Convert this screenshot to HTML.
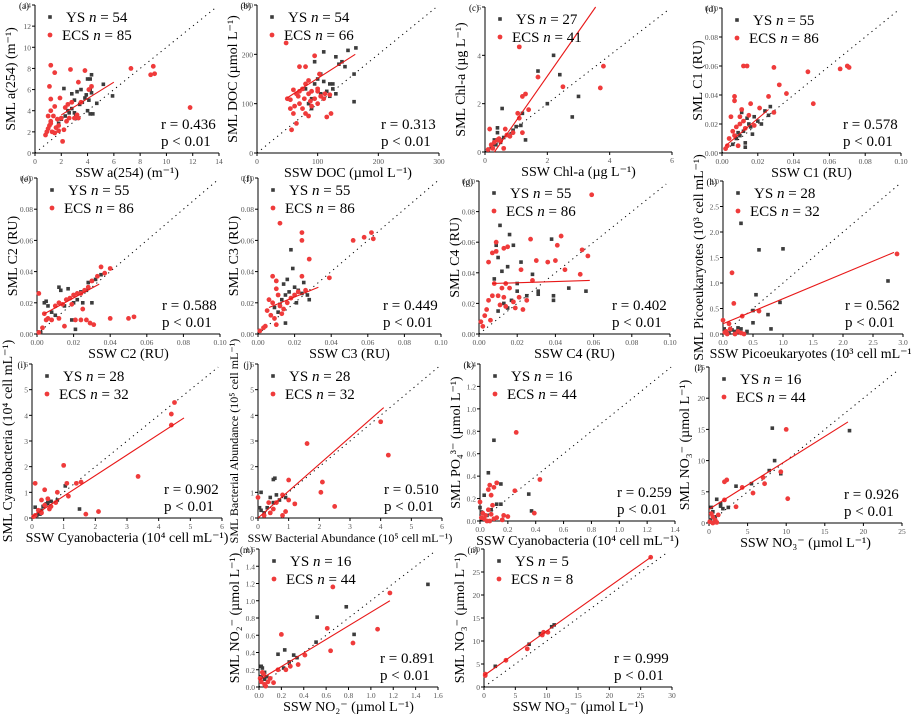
<!DOCTYPE html>
<html><head><meta charset="utf-8"><style>
html,body{margin:0;padding:0;background:#fff;}
svg, svg text{font-family:"Liberation Serif","Times New Roman",serif;}
</style></head><body>
<svg id="fig" width="911" height="715" viewBox="0 0 911 715" xmlns="http://www.w3.org/2000/svg" font-family="Liberation Serif, serif"></svg>
<script>
// ---- data (x,y) pairs per panel ----
const aYS=[[2.2,6.1],[2.8,5.6],[3,5],[3.2,5.8],[3.5,6],[3.8,5.2],[4,7],[4.2,7],[4.3,7.4],[4.2,6],[4.3,5.7],[4,4],[4.2,3.7],[4.4,3.7],[4.7,4.7],[5.2,6.5],[5.9,5.4],[2.5,4],[2.8,4.2],[3.1,3.5],[3.4,4.6],[3.6,4.8],[2,3.2],[2.3,3.5],[3.9,5.5],[1.8,2.8],[2.6,3.8],[3,3.8],[4.1,5],[4.3,6.3]];
const aECS=[[1.2,8.3],[1.5,7.6],[2.7,7.9],[3.8,7.8],[7.3,8],[8.8,7.4],[9,8.2],[9.1,7.5],[11.8,4.3],[1.1,6.3],[1.2,5.1],[1.9,5.2],[3.3,6.7],[4.3,6.3],[2.1,1.1],[0.8,1.7],[0.9,2],[1,2.3],[1.1,2.6],[1.2,3],[1.3,2],[1.4,3.5],[1.5,4.4],[1.6,2.4],[1.7,3.2],[1.8,2.1],[1,3.5],[1.2,4],[2,3.3],[2.4,3],[2.5,4.6],[2.6,3.3],[2.8,4.8],[3,3.3],[3.2,3.6],[3.5,4.8],[2.2,2.2],[1.5,1.9],[1.8,2.6],[2.3,4.3],[3.3,3.3],[4.1,6],[1.2,2.8]];
const aFit=[[2,3.6],[6,6.7]];
const bYS=[[100,130],[110,205],[95,185],[130,195],[145,175],[150,208],[163,213],[160,160],[160,104],[120,140],[110,145],[105,120],[90,110],[85,100],[125,130],[115,125],[100,150],[95,140],[130,120],[120,115],[135,180],[140,185],[90,90],[80,130],[105,160],[125,140]];
const bECS=[[48,223],[80,175],[95,197],[103,160],[70,175],[50,110],[55,90],[60,80],[65,60],[57,47],[60,128],[70,125],[75,130],[85,120],[80,80],[85,75],[90,95],[95,110],[100,100],[105,115],[110,110],[115,73],[122,80],[120,118],[100,130],[85,147],[65,120],[55,108],[70,100],[75,90],[80,140],[90,125],[88,105],[78,110],[68,115],[62,95],[100,125],[112,120]];
const bFit=[[50,112],[162,200]];
const cYS=[[0.55,1.8],[1.7,3.35],[2.2,4],[2.4,3.2],[2,2],[3,2.3],[2.8,1.45],[1.3,0.5],[1.2,1.6],[1,1.05],[1.15,1.1],[0.4,1],[0.4,0.8],[0.3,0.5],[0.6,0.6],[0.8,0.7],[0.5,0.4],[0.2,0.2],[0.9,0.9],[0.35,0.3]];
const cECS=[[1.1,4.35],[1.7,3.1],[1.3,2.4],[1.2,2.3],[1.4,1.75],[2.5,2.7],[3.7,2.65],[3.8,3.55],[0.15,0.95],[0.65,0.95],[1.05,1.6],[1.1,1.4],[0.9,0.8],[0.7,0.7],[0.6,0.15],[0.4,0.5],[0.3,0.4],[0.2,0.3],[0.5,0.45],[0.1,0.1],[1.2,0.8],[0.8,0.65],[0.45,0.55],[0.25,0.15]];
const cFit=[[0.3,0],[3.55,6]];
const dYS=[[0.027,0.032],[0.024,0.029],[0.026,0.026],[0.02,0.022],[0.018,0.025],[0.015,0.02],[0.012,0.015],[0.013,0.007],[0.013,0.004],[0.01,0.012],[0.008,0.01],[0.011,0.028],[0.006,0.006],[0.016,0.018],[0.022,0.02],[0.009,0.014],[0.014,0.024],[0.017,0.013]];
const dECS=[[0.012,0.06],[0.014,0.06],[0.029,0.059],[0.048,0.056],[0.066,0.058],[0.07,0.06],[0.071,0.059],[0.032,0.047],[0.036,0.041],[0.051,0.034],[0.026,0.039],[0.007,0.039],[0.007,0.036],[0.021,0.031],[0.029,0.028],[0.016,0.034],[0.005,0.025],[0.01,0.025],[0.004,0.01],[0.006,0.015],[0.008,0.018],[0.01,0.02],[0.012,0.022],[0.003,0.005],[0.015,0.026],[0.009,0.005],[0.011,0.03],[0.002,0.003],[0.007,0.012],[0.013,0.017],[0.018,0.019]];
const dFit=[[0.002,0.005],[0.026,0.03]];
const eYS=[[0.002,0.001],[0.012,0.03],[0.013,0.028],[0.017,0.029],[0.02,0.02],[0.022,0.022],[0.025,0.02],[0.028,0.033],[0.03,0.034],[0.032,0.035],[0.035,0.038],[0.019,0.009],[0.021,0.003],[0.004,0.02],[0.005,0.021],[0.008,0.014],[0.01,0.012],[0.015,0.018],[0.024,0.027],[0.027,0.028],[0.006,0.018],[0.03,0.02]];
const eECS=[[0.001,0.026],[0.004,0.013],[0.005,0.009],[0.006,0.01],[0.003,0.004],[0.001,0.001],[0.01,0.018],[0.012,0.02],[0.014,0.019],[0.016,0.022],[0.018,0.023],[0.02,0.025],[0.022,0.026],[0.024,0.026],[0.026,0.028],[0.028,0.03],[0.03,0.034],[0.033,0.037],[0.035,0.043],[0.037,0.039],[0.04,0.042],[0.05,0.01],[0.053,0.011],[0.021,0.009],[0.024,0.009],[0.027,0.009],[0.029,0.007],[0.031,0.006],[0.025,0.016],[0.019,0.019],[0.012,0.01],[0.008,0.009],[0.04,0.01],[0.015,0.005]];
const eFit=[[0.004,0.013],[0.034,0.032]];
const fYS=[[0.018,0.054],[0.019,0.042],[0.016,0.035],[0.02,0.03],[0.024,0.026],[0.027,0.025],[0.028,0.022],[0.022,0.028],[0.015,0.025],[0.013,0.022],[0.012,0.019],[0.011,0.014],[0.009,0.017],[0.015,0.007],[0.025,0.033],[0.017,0.027],[0.021,0.02],[0.014,0.032]];
const fECS=[[0.012,0.071],[0.024,0.065],[0.024,0.06],[0.028,0.048],[0.052,0.06],[0.058,0.062],[0.062,0.065],[0.063,0.061],[0.039,0.036],[0.024,0.037],[0.008,0.037],[0.01,0.034],[0.01,0.029],[0.006,0.022],[0.008,0.02],[0.012,0.018],[0.014,0.016],[0.016,0.02],[0.02,0.025],[0.005,0.015],[0.007,0.012],[0.009,0.01],[0.004,0.005],[0.001,0.002],[0.003,0.004],[0.011,0.025],[0.013,0.013],[0.018,0.023],[0.022,0.027],[0.026,0.028],[0.01,0.006]];
const fFit=[[0.006,0.017],[0.033,0.03]];
const gYS=[[0.011,0.071],[0.016,0.065],[0.018,0.058],[0.009,0.058],[0.038,0.062],[0.015,0.044],[0.022,0.047],[0.028,0.039],[0.012,0.041],[0.008,0.036],[0.047,0.03],[0.056,0.028],[0.039,0.025],[0.039,0.022],[0.031,0.026],[0.02,0.028],[0.017,0.022],[0.013,0.02],[0.015,0.017],[0.01,0.015],[0.025,0.025],[0.02,0.033],[0.031,0.028],[0.01,0.05]];
const gECS=[[0.059,0.091],[0.027,0.062],[0.043,0.064],[0.041,0.058],[0.054,0.055],[0.057,0.051],[0.045,0.042],[0.053,0.039],[0.036,0.047],[0.04,0.048],[0.03,0.048],[0.022,0.042],[0.028,0.035],[0.009,0.06],[0.007,0.053],[0.005,0.047],[0.009,0.054],[0.013,0.056],[0.015,0.057],[0.014,0.033],[0.008,0.033],[0.012,0.03],[0.01,0.025],[0.005,0.022],[0.004,0.016],[0.003,0.012],[0.001,0.008],[0.002,0.005],[0.006,0.009],[0.014,0.018],[0.018,0.021],[0.021,0.024],[0.016,0.03],[0.025,0.022],[0.011,0.019],[0.007,0.025],[0.013,0.024],[0.019,0.017],[0.023,0.016]];
const gFit=[[0.007,0.033],[0.058,0.035]];
const hYS=[[0.3,2.17],[0.6,1.65],[1,1.67],[0.5,0.46],[0.55,0.77],[0.95,0.62],[2.75,1.04],[0.75,0.38],[0.5,0.22],[0.8,0.1],[0.3,0.1],[0.05,0.05],[0.1,0.02],[0.2,0.05],[0.15,0.08],[0.25,0.12],[0.4,0.05],[0.02,0.1]];
const hECS=[[0.15,1.2],[0.18,0.6],[0,0.27],[0.32,0.35],[0.6,0.45],[2.9,1.57],[0.1,0.2],[0.12,0.1],[0.05,0.05],[0.2,0],[0.3,0.02],[0.35,0],[0.07,0],[0.25,0.05],[0.03,0.03]];
const hFit=[[0,0.2],[2.85,1.6]];
const iYS=[[1.05,1.25],[1.5,0.35],[0.1,0.42],[0.3,0.3],[0.45,0.55],[0.5,0.6],[0.6,0.65],[0.2,0.2],[0.15,0.1],[0.05,0.05],[0.8,0.7],[0.35,0.45],[0.25,0.15]];
const iECS=[[4.5,4.5],[4.4,4.05],[4.4,3.62],[3.35,1.62],[1,2.05],[1.1,1.35],[1.4,1.35],[1.55,1.4],[0.1,1.35],[0.4,1.1],[0.8,1],[1.15,0.85],[0.75,0.6],[0.5,0.75],[0.3,0.7],[0.55,0.35],[1.7,0.15],[2.1,0.25],[0.4,0.5],[0.2,0.3],[0.1,0.1],[0.6,0.45],[0.3,0.2],[0.05,0.05]];
const iFit=[[0,0.05],[4.8,3.9]];
const jYS=[[0.5,1.5],[0.55,1.55],[0.1,1],[0.4,0.8],[0.6,0.9],[0.9,0.8],[0.3,0.4],[0.2,0.2],[0.1,0.3],[0.05,0.4],[0.7,0.7],[0.5,0.6]];
const jECS=[[1.6,2.9],[4,3.75],[4.25,2.45],[2.1,1.4],[2.05,1],[2.5,0.45],[1,1.48],[0.8,0.9],[1,0.7],[1.2,0.55],[0.8,0.1],[0.9,0.25],[0,0.8],[0.35,0.6],[0.4,0.2],[0.5,0.35],[0.2,0.1],[0.6,0.6]];
const jFit=[[0,0],[4.1,4.3]];
const kYS=[[0.1,0.72],[0.06,0.43],[0.03,0.23],[0.15,0.33],[0.35,0.24],[0.15,0.15],[0.37,0.09],[0.12,0.15],[0,0.12],[0.01,0.08],[0.02,0.02],[0.05,0.05],[0.08,0.1]];
const kECS=[[0.26,0.79],[0.43,0.37],[0.25,0.27],[0.39,0.07],[0.2,0.04],[0.17,0.05],[0.12,0.34],[0.1,0.3],[0.07,0.32],[0.06,0.28],[0.08,0.23],[0.09,0.14],[0.08,0.06],[0.06,0.1],[0.04,0.05],[0,0.17],[0.03,0.02],[0.05,0],[0.1,0.02],[0.02,0.07],[0.07,0],[0.01,0.03],[0.12,0.03],[0.16,0.01]];
const kFit=null;
const lYS=[[8.2,15.2],[18.2,14.8],[8.5,10],[7.8,8.4],[9.3,7.9],[5.5,6.3],[3.5,5.9],[0.3,2.5],[0.5,1.8],[1,3.8],[1.5,2.7],[1.5,3.1],[2.5,2.5],[0.2,0.5],[0.8,1],[1.8,2.3]];
const lECS=[[10,15],[10.2,3.9],[9.3,8.2],[7.2,6.3],[7,7.3],[5.7,4.8],[4.3,5.7],[3.5,2.6],[2,3.7],[2.3,6.9],[2,6.6],[0.3,1.5],[0.5,1],[0.8,0.5],[0.1,0.2],[1.2,1.3],[0.5,0],[1,0.1]];
const lFit=[[0,2.2],[18,16.2]];
const mYS=[[1.51,1.19],[0.78,0.93],[0.52,0.81],[0.85,0.61],[0.51,0.52],[0.31,0.37],[0.34,0.34],[0.23,0.43],[0.17,0.38],[0.27,0.29],[0.22,0.22],[0.02,0.24],[0.03,0.22],[0.05,0.17],[0.02,0.12],[0.07,0.12],[0.05,0.09]];
const mECS=[[1.17,1.09],[0.66,1.16],[0.61,0.68],[1.06,0.67],[0.84,0.51],[0.64,0.42],[0.41,0.37],[0.35,0.26],[0.28,0.24],[0.24,0.2],[0.2,0.61],[0.17,0.2],[0.13,0.05],[0.1,0.1],[0.08,0.06],[0.04,0.15],[0.03,0.17],[0.05,0.03],[0.01,0.1],[0.06,0.01],[0.02,0.06]];
const mFit=[[0,0.08],[1.17,1]];
const nYS=[[11.2,13.5],[10.8,13.1],[9,11.6],[7.2,9.3],[1.8,4.5]];
const nECS=[[26.6,28.2],[10.2,11.9],[9.5,11.9],[9.3,11.3],[6.9,8.3],[3.5,5.8],[0.2,2.8],[0.2,2.5]];
const nFit=[[0,2.5],[26.6,28.2]];

const panels=[
 {id:'a',x0:35,x1:219,y0:153,y1:5,max:14,step:2,dec:0,ys:aYS,ecs:aECS,fit:aFit,nY:54,nE:85,r:'0.436',xl:'SSW a(254) (m⁻¹)',yl:'SML a(254) (m⁻¹)'},
 {id:'b',x0:257,x1:439,y0:153,y1:5,max:300,step:100,dec:0,ys:bYS,ecs:bECS,fit:bFit,nY:54,nE:66,r:'0.313',xl:'SSW DOC (µmol L⁻¹)',yl:'SML DOC (µmol L⁻¹)'},
 {id:'c',x0:485,x1:672,y0:152,y1:7,max:6,step:2,dec:0,ys:cYS,ecs:cECS,fit:cFit,nY:27,nE:41,r:null,xl:'SSW Chl-a (µg L⁻¹)',yl:'SML Chl-a (µg L⁻¹)'},
 {id:'d',x0:722,x1:901,y0:153,y1:8,max:0.1,step:0.02,dec:2,ys:dYS,ecs:dECS,fit:dFit,nY:55,nE:86,r:'0.578',xl:'SSW C1 (RU)',yl:'SML C1 (RU)'},
 {id:'e',x0:37,x1:220,y0:334,y1:178,max:0.1,step:0.02,dec:2,ys:eYS,ecs:eECS,fit:eFit,nY:55,nE:86,r:'0.588',xl:'SSW C2 (RU)',yl:'SML C2 (RU)'},
 {id:'f',x0:258,x1:441,y0:334,y1:178,max:0.1,step:0.02,dec:2,ys:fYS,ecs:fECS,fit:fFit,nY:55,nE:86,r:'0.449',xl:'SSW C3 (RU)',yl:'SML C3 (RU)'},
 {id:'g',x0:479,x1:670,y0:334,y1:181,max:0.1,step:0.02,dec:2,ys:gYS,ecs:gECS,fit:gFit,nY:55,nE:86,r:'0.402',xl:'SSW C4 (RU)',yl:'SML C4 (RU)'},
 {id:'h',x0:723,x1:903,y0:334,y1:181,max:3,step:0.5,dec:1,ys:hYS,ecs:hECS,fit:hFit,nY:28,nE:32,r:'0.562',xl:'SSW Picoeukaryotes (10³ cell mL⁻¹)',yl:'SML Picoeukaryotes (10³ cell mL⁻¹)'},
 {id:'i',x0:32,x1:222,y0:518,y1:364,max:6,step:1,dec:0,ys:iYS,ecs:iECS,fit:iFit,nY:28,nE:32,r:'0.902',xl:'SSW Cyanobacteria (10⁴ cell mL⁻¹)',yl:'SML Cyanobacteria (10⁴ cell mL⁻¹)'},
 {id:'j',x0:258,x1:442,y0:518,y1:364,max:6,step:1,dec:0,ys:jYS,ecs:jECS,fit:jFit,nY:28,nE:32,r:'0.510',xl:'SSW Bacterial Abundance (10⁵ cell mL⁻¹)',yl:'SML Bacterial Abundance (10⁵ cell mL⁻¹)',small:true},
 {id:'k',x0:480,x1:675,y0:521,y1:364,max:1.4,step:0.2,dec:1,ys:kYS,ecs:kECS,fit:kFit,nY:16,nE:44,r:'0.259',xl:'SSW Cyanobacteria (10⁴ cell mL⁻¹)',yl:'SML PO₄³⁻ (µmol L⁻¹)'},
 {id:'l',x0:709,x1:902,y0:523,y1:367,max:25,step:5,dec:0,ys:lYS,ecs:lECS,fit:lFit,nY:16,nE:44,r:'0.926',xl:'SSW NO₃⁻ (µmol L⁻¹)',yl:'SML NO₃⁻ (µmol L⁻¹)'},
 {id:'m',x0:259,x1:438,y0:687,y1:549,max:1.6,step:0.2,dec:1,ys:mYS,ecs:mECS,fit:mFit,nY:16,nE:44,r:'0.891',xl:'SSW NO₂⁻ (µmol L⁻¹)',yl:'SML NO₂⁻ (µmol L⁻¹)'},
 {id:'n',x0:484,x1:672,y0:687,y1:549,max:30,step:5,dec:0,ys:nYS,ecs:nECS,fit:nFit,nY:5,nE:8,r:'0.999',xl:'SSW NO₃⁻ (µmol L⁻¹)',yl:'SML NO₃⁻ (µmol L⁻¹)'}
];

const NS='http://www.w3.org/2000/svg';
const svg=document.getElementById('fig');
const FF='Liberation Serif, serif';
function mk(tag,attrs,parent,txt){const e=document.createElementNS(NS,tag);for(const k in attrs)e.setAttribute(k,attrs[k]);if(tag==='text')e.setAttribute('font-family',FF);if(txt!=null)e.textContent=txt;parent.appendChild(e);return e;}

panels.forEach(p=>{
  const g=mk('g',{},svg);
  
  
  const sx=v=>p.x0+(v/p.max)*(p.x1-p.x0);
  const sy=v=>p.y0-(v/p.max)*(p.y0-p.y1);
  const ax=mk('path',{d:`M${p.x0},${p.y1}V${p.y0}H${p.x1}`,stroke:'#000','stroke-width':1,fill:'none'},g);
  
  
  const n=Math.round(p.max/p.step);
  for(let i=0;i<=n;i++){
    const v=i*p.step, lab=v.toFixed(p.dec);
    mk('line',{x1:sx(v),x2:sx(v),y1:p.y0,y2:p.y0+3,stroke:'#000'},g);
    mk('line',{x1:p.x0,x2:p.x0-3,y1:sy(v),y2:sy(v),stroke:'#000'},g);
    const tx=mk('text',{x:sx(v),y:p.y0+11,'font-size':7.5,fill:'#555','text-anchor':'middle'},g,lab);
    
    
    const ty=mk('text',{x:p.x0-4,y:sy(v)+3,'font-size':7.5,fill:'#555','text-anchor':'end'},g,lab);
    
    
  }
  const dl=mk('line',{x1:sx(0),y1:sy(0),x2:sx(p.max*0.98),y2:sy(p.max*0.98),stroke:'#000','stroke-width':1,'stroke-dasharray':'1.2,4'},g);
  
  
  p.ys.forEach(d=>{
    const r=mk('rect',{x:sx(d[0])-1.8,y:sy(d[1])-1.8,width:3.6,height:3.6,fill:'#3c3c3c'},g);
    
    
  });
  p.ecs.forEach(d=>{
    const c=mk('circle',{cx:sx(d[0]),cy:sy(d[1]),r:2.4,fill:'#ef3b3b'},g);
    
    
  });
  if(p.fit){
    const f=mk('line',{x1:sx(p.fit[0][0]),y1:sy(p.fit[0][1]),x2:sx(p.fit[1][0]),y2:sy(p.fit[1][1]),stroke:'#e81818','stroke-width':1.1},g);
    
    
  }
  const lx=p.x0+15, ly=p.y1+12;
  mk('rect',{x:lx-1.8,y:ly-1.8,width:3.6,height:3.6,fill:'#3c3c3c'},g);
  const t1=mk('text',{x:lx+16,y:ly+5,'font-size':15,fill:'#000'},g);
  
  
  mk('tspan',{},t1,'YS  ');mk('tspan',{'font-style':'italic'},t1,'n');mk('tspan',{},t1,' = '+p.nY);
  mk('circle',{cx:lx,cy:ly+18,r:2.4,fill:'#ef3b3b'},g);
  const t2=mk('text',{x:lx+12,y:ly+23,'font-size':15,fill:'#000'},g);
  
  
  mk('tspan',{},t2,'ECS ');mk('tspan',{'font-style':'italic'},t2,'n');mk('tspan',{},t2,' = '+p.nE);
  if(p.r){
    const rx=p.x1-58;
    const s1=mk('text',{x:rx,y:p.y0-24,'font-size':15},g,'r = '+p.r);
    
    
    const s2=mk('text',{x:rx,y:p.y0-7,'font-size':15},g,'p < 0.01');
    
    
  }
  const pl=mk('text',{x:p.x0-6,y:p.y1+4,'font-size':9,'text-anchor':'end'},g,'('+p.id+')');
  
  
  const fs=p.small?12:14;
  const xt=mk('text',{x:(p.x0+p.x1)/2,y:p.y0+24,'font-size':fs,'text-anchor':'middle'},g,p.xl);
  
  
  const cx=p.x0-20, cy=(p.y0+p.y1)/2;
  const yt=mk('text',{x:cx,y:cy,'font-size':fs,'text-anchor':'middle',transform:`rotate(-90 ${cx} ${cy})`},g,p.yl);
  
  
});
</script>
</body></html>
